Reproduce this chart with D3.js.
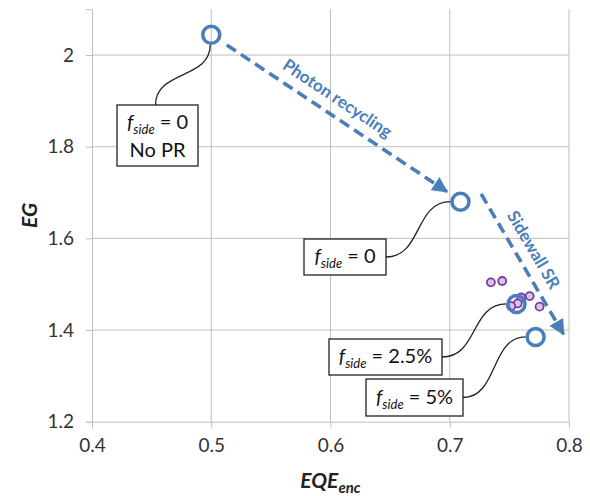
<!DOCTYPE html>
<html>
<head>
<meta charset="utf-8">
<script src="https://cdn.jsdelivr.net/npm/d3@7"></script>
<style>
  body { margin: 0; background: #fff; }
  svg { font-family: Lato, "Open Sans", sans-serif; }
</style>
</head>
<body>
<div id="chart"></div>
<script>
// main series: f_side = 0 (no PR), f_side = 0, 2.5%, 5%
const bigX = [0.5, 0.709, 0.756, 0.772];
const bigY = [2.044, 1.680, 1.457, 1.385];

// small purple points
const smallX = [0.7345, 0.744, 0.760, 0.767, 0.757, 0.7515, 0.7753];
const smallY = [1.504, 1.507, 1.471, 1.474, 1.458, 1.452, 1.451];

const xTicks = [0.4, 0.5, 0.6, 0.7, 0.8];
const xTickLabels = ["0.4", "0.5", "0.6", "0.7", "0.8"];
const yTicks = [1.2, 1.4, 1.6, 1.8, 2.0];
const yTickLabels = ["1.2", "1.4", "1.6", "1.8", "2"];

// callout values (the number after "f_side =") and extra line
const calloutValues = ["0", "0", "2.5%", "5%"];
const calloutExtra = ["No PR", "", "", ""];

// arrows, in data coordinates
const arrowLabels = ["Photon recycling", "Sidewall SR"];
const arrowX0 = [0.513, 0.7263];
const arrowY0 = [2.022, 1.697];
const arrowX1 = [0.6976, 0.7954];
const arrowY1 = [1.702, 1.391];

const W = 590, H = 496;
const blue = "#4a7ebb";

let svg = d3.select("#chart").append("svg")
  .attr("width", W)
  .attr("height", H);

let x = d3.scaleLinear().domain([0.4, 0.8]).range([92, 569]);
let y = d3.scaleLinear().domain([1.2, 2.1]).range([421.7, 9.2]);

// gridlines
svg.append("g")
  .selectAll("line")
  .data(xTicks.slice(1))
  .join("line")
  .attr("x1", d => x(d)).attr("x2", d => x(d))
  .attr("y1", y(2.1)).attr("y2", y(1.2))
  .attr("stroke", "#bfbfbf");
svg.append("g")
  .selectAll("line")
  .data(yTicks.slice(1))
  .join("line")
  .attr("x1", x(0.4)).attr("x2", x(0.8))
  .attr("y1", d => y(d)).attr("y2", d => y(d))
  .attr("stroke", "#bfbfbf");

// axes
let xAxis = svg.append("g")
  .attr("transform", `translate(0,${y(1.2)})`)
  .call(d3.axisBottom(x).tickValues(xTicks).tickSize(6).tickPadding(8)
    .tickFormat((d, i) => xTickLabels[i]));
let yAxis = svg.append("g")
  .attr("transform", `translate(${x(0.4)},0)`)
  .call(d3.axisLeft(y).tickValues(yTicks).tickSize(6).tickPadding(12)
    .tickFormat((d, i) => yTickLabels[i]));
[xAxis, yAxis].forEach(a => {
  a.select(".domain").attr("stroke", "#bfbfbf");
  a.selectAll(".tick line").attr("stroke", "#bfbfbf");
  a.selectAll(".tick text")
    .attr("fill", "#333")
    .style("font-size", "19px")
    .style("font-family", "Lato, sans-serif");
});
xAxis.selectAll(".tick text").attr("dy", "0.85em");

// axis titles
svg.append("text")
  .attr("transform", `translate(30,${(y(1.2) + y(2.1)) / 2}) rotate(-90)`)
  .attr("text-anchor", "middle")
  .attr("dy", "0.35em")
  .style("font-size", "21px")
  .style("font-weight", "bold")
  .style("font-style", "italic")
  .attr("fill", "#222")
  .text("EG");

let xt = svg.append("text")
  .attr("x", (x(0.4) + x(0.8)) / 2)
  .attr("y", 488)
  .attr("text-anchor", "middle")
  .style("font-weight", "bold")
  .style("font-style", "italic")
  .attr("fill", "#222");
xt.append("tspan").style("font-size", "21px").text("EQE");
xt.append("tspan").style("font-size", "15px").attr("dy", 5).text("enc");

// arrows
let defs = svg.append("defs");
defs.append("marker")
  .attr("id", "head")
  .attr("viewBox", "0 0 10 10")
  .attr("refX", 9).attr("refY", 5)
  .attr("markerWidth", 4.4).attr("markerHeight", 4.4)
  .attr("markerUnits", "strokeWidth")
  .attr("orient", "auto")
  .append("path")
  .attr("d", "M0,0 L10,5 L0,10 Z")
  .attr("fill", blue);

arrowLabels.forEach((lab, i) => {
  let x0 = x(arrowX0[i]), y0 = y(arrowY0[i]);
  let x1 = x(arrowX1[i]), y1 = y(arrowY1[i]);
  svg.append("line")
    .attr("x1", x0).attr("y1", y0)
    .attr("x2", x1).attr("y2", y1)
    .attr("stroke", blue)
    .attr("stroke-width", 3.6)
    .attr("stroke-dasharray", "11,6")
    .attr("marker-end", "url(#head)");

  let ang = Math.atan2(y1 - y0, x1 - x0) * 180 / Math.PI;
  let len = Math.hypot(x1 - x0, y1 - y0);
  let dx = (x1 - x0) / len, dy = (y1 - y0) / len;
  // label sits above (first) or right (second) of its arrow
  let off = 17;
  let along = 0.46;
  let cx = x0 + (x1 - x0) * along + dy * off;
  let cy = y0 + (y1 - y0) * along - dx * off;
  svg.append("text")
    .attr("transform", `translate(${cx},${cy}) rotate(${ang})`)
    .attr("text-anchor", "middle")
    .attr("dy", "0.35em")
    .attr("fill", blue)
    .style("font-size", "17px")
    .style("font-weight", "bold")
    .text(lab);
});

// callout boxes (pixel layout) and connector curves
const boxes = [
  {x: 117, y: 105, w: 81, h: 61},
  {x: 304, y: 239, w: 82, h: 36},
  {x: 329, y: 339, w: 113, h: 36},
  {x: 366, y: 379, w: 97, h: 37}
];

boxes.forEach((b, i) => {
  let px = x(bigX[i]), py = y(bigY[i]);
  let p;
  if (i == 0) {
    let sx = b.x + b.w / 2 - 2, sy = b.y;
    let ex = px - 1, ey = py + 10;
    p = `M${sx},${sy} C${sx},${sy - 35} ${ex},${ey + 35} ${ex},${ey}`;
  } else {
    let sx = b.x + b.w, sy = b.y + b.h / 2;
    let ex = px - 10, ey = py;
    let mx = (sx + ex) / 2;
    p = `M${sx},${sy} C${mx + 4},${sy} ${mx - 4},${ey} ${ex},${ey}`;
  }
  svg.append("path")
    .attr("d", p)
    .attr("fill", "none")
    .attr("stroke", "#222")
    .attr("stroke-width", 1.3);

  svg.append("rect")
    .attr("x", b.x).attr("y", b.y)
    .attr("width", b.w).attr("height", b.h)
    .attr("fill", "#fff")
    .attr("stroke", "#222")
    .attr("stroke-width", 1.3);

  let ty = calloutExtra[i] ? b.y + 24 : b.y + b.h / 2 + 6;
  let t = svg.append("text")
    .attr("x", b.x + b.w / 2)
    .attr("y", ty)
    .attr("text-anchor", "middle")
    .attr("fill", "#111")
    .style("font-size", "20px");
  t.append("tspan").style("font-style", "italic").text("f");
  t.append("tspan").style("font-style", "italic").style("font-size", "13px")
    .attr("dy", 5).text("side");
  t.append("tspan").attr("dy", -5).text(" = " + calloutValues[i]);
  if (calloutExtra[i]) {
    svg.append("text")
      .attr("x", b.x + b.w / 2)
      .attr("y", b.y + 52)
      .attr("text-anchor", "middle")
      .attr("fill", "#111")
      .style("font-size", "20px")
      .text(calloutExtra[i]);
  }
});

// purple points
svg.append("g")
  .selectAll("circle")
  .data(smallX.map((d, i) => [d, smallY[i]]))
  .join("circle")
  .attr("cx", d => x(d[0]))
  .attr("cy", d => y(d[1]))
  .attr("r", 4)
  .attr("fill", "#d5c6e6")
  .attr("stroke", "#7a3aa8")
  .attr("stroke-width", 1.8);

// main series
svg.append("g")
  .selectAll("circle")
  .data(bigX.map((d, i) => [d, bigY[i]]))
  .join("circle")
  .attr("cx", d => x(d[0]))
  .attr("cy", d => y(d[1]))
  .attr("r", 8.5)
  .attr("fill", "none")
  .attr("stroke", blue)
  .attr("stroke-width", 3.5);
</script>
</body>
</html>
